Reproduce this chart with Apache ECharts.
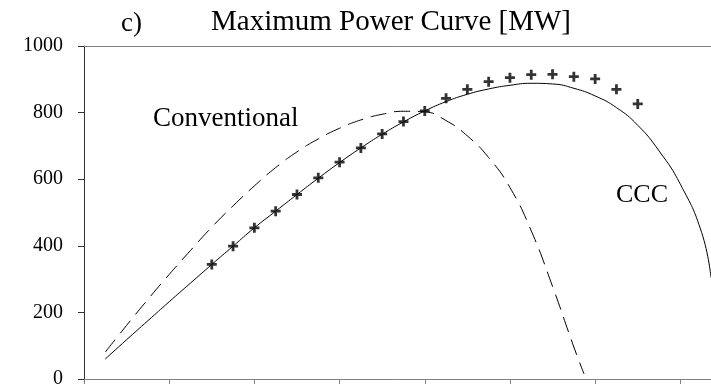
<!DOCTYPE html>
<html>
<head>
<meta charset="utf-8">
<script src="https://cdn.jsdelivr.net/npm/echarts@6/dist/echarts.min.js"></script>
<style>
  html, body { margin: 0; padding: 0; background: #fff; }
  #chart { width: 711px; height: 389px; }
</style>
</head>
<body>
<div id="chart"></div>
<script>
// x in tick units (no labels on the original), y in MW
const cccX = [0.25, 0.5, 0.75, 1.0, 1.25, 1.5, 1.75, 2.0, 2.25, 2.5, 2.75, 3.0, 3.25, 3.5, 3.75, 4.0,
  4.25, 4.5, 4.75, 5.0, 5.25, 5.5, 5.75, 6.0, 6.25, 6.5, 6.75, 7.0, 7.25, 7.36];
const cccY = [60, 118, 175, 232, 288, 344, 399, 454, 504, 554, 603, 650, 694, 735, 772, 805,
  833, 855, 871, 882, 888, 886, 873, 850, 815, 762, 685, 585, 440, 305];

const convX = [0.25, 0.5, 0.75, 1.0, 1.25, 1.5, 1.75, 2.0, 2.25, 2.5, 2.75, 3.0, 3.25, 3.5, 3.75, 4.0,
  4.25, 4.5, 4.75, 5.0, 5.25, 5.5, 5.75, 5.87];
const convY = [81, 161, 239, 314, 386, 456, 520, 580, 635, 682, 721, 753, 778, 795, 804, 802,
  776, 730, 665, 575, 445, 278, 96, 15];

const measX = [1.5, 1.75, 2.0, 2.25, 2.5, 2.75, 3.0, 3.25, 3.5, 3.75, 4.0,
  4.25, 4.5, 4.75, 5.0, 5.25, 5.5, 5.75, 6.0, 6.25, 6.5];
const measY = [344, 399, 454, 504, 554, 604, 651, 694, 736, 773, 805,
  843, 870, 893, 905, 914, 915, 908, 901, 870, 826];

const yTicks = [0, 200, 400, 600, 800, 1000];

const zip = (xs, ys) => xs.map((x, i) => [x, ys[i]]);
const serif = "'Liberation Serif', 'DejaVu Serif', serif";
const plus = 'path://M0,3.6H10V6.4H0ZM3.6,0H6.4V10H3.6Z';

const chart = echarts.init(document.getElementById('chart'));

chart.setOption({
  animation: false,
  title: [
    { text: 'c)', left: 116, top: 5, textStyle: { fontFamily: serif, fontSize: 27, fontWeight: 'normal', color: '#000' } },
    { text: 'Maximum Power Curve [MW]', left: 206, top: 3, textStyle: { fontFamily: serif, fontSize: 29, fontWeight: 'normal', color: '#000' } }
  ],
  grid: { left: 84, right: 0, top: 46, bottom: 9 },
  xAxis: [
    {
      type: 'value', min: 0, max: 7.36, interval: 1,
      axisLine: { lineStyle: { color: '#808080', width: 1 } },
      axisTick: { show: true, inside: false, length: 5, lineStyle: { color: '#808080' } },
      axisLabel: { show: false },
      splitLine: { show: false }
    },
    {
      type: 'value', position: 'top', min: 0, max: 7.36,
      axisLine: { show: true, lineStyle: { color: '#808080', width: 1 } },
      axisTick: { show: false },
      axisLabel: { show: false },
      splitLine: { show: false }
    }
  ],
  yAxis: {
    type: 'value', min: yTicks[0], max: yTicks[yTicks.length - 1], interval: 200,
    axisLine: { show: true, lineStyle: { color: '#333', width: 1 } },
    axisTick: { show: true, length: 6, lineStyle: { color: '#333' } },
    axisLabel: { fontFamily: serif, fontSize: 20, color: '#000', margin: 21, formatter: (v) => String(v) },
    splitLine: { show: false }
  },
  graphic: [
    { type: 'text', left: 153, top: 105, style: { text: 'Conventional', font: '27px ' + serif, fill: '#000' } },
    { type: 'text', left: 616, top: 182, style: { text: 'CCC', font: '26px ' + serif, fill: '#000' } }
  ],
  series: [
    {
      name: 'CCC', type: 'line', data: zip(cccX, cccY), smooth: true,
      showSymbol: false, lineStyle: { color: '#000', width: 1 }
    },
    {
      name: 'Conventional', type: 'line', data: zip(convX, convY), smooth: true,
      showSymbol: false, lineStyle: { color: '#000', width: 1, type: [16, 8] }
    },
    {
      name: 'Measured', type: 'scatter', data: zip(measX, measY),
      symbol: plus, symbolSize: 10, itemStyle: { color: '#000' }, z: 5
    }
  ]
});
</script>
</body>
</html>
